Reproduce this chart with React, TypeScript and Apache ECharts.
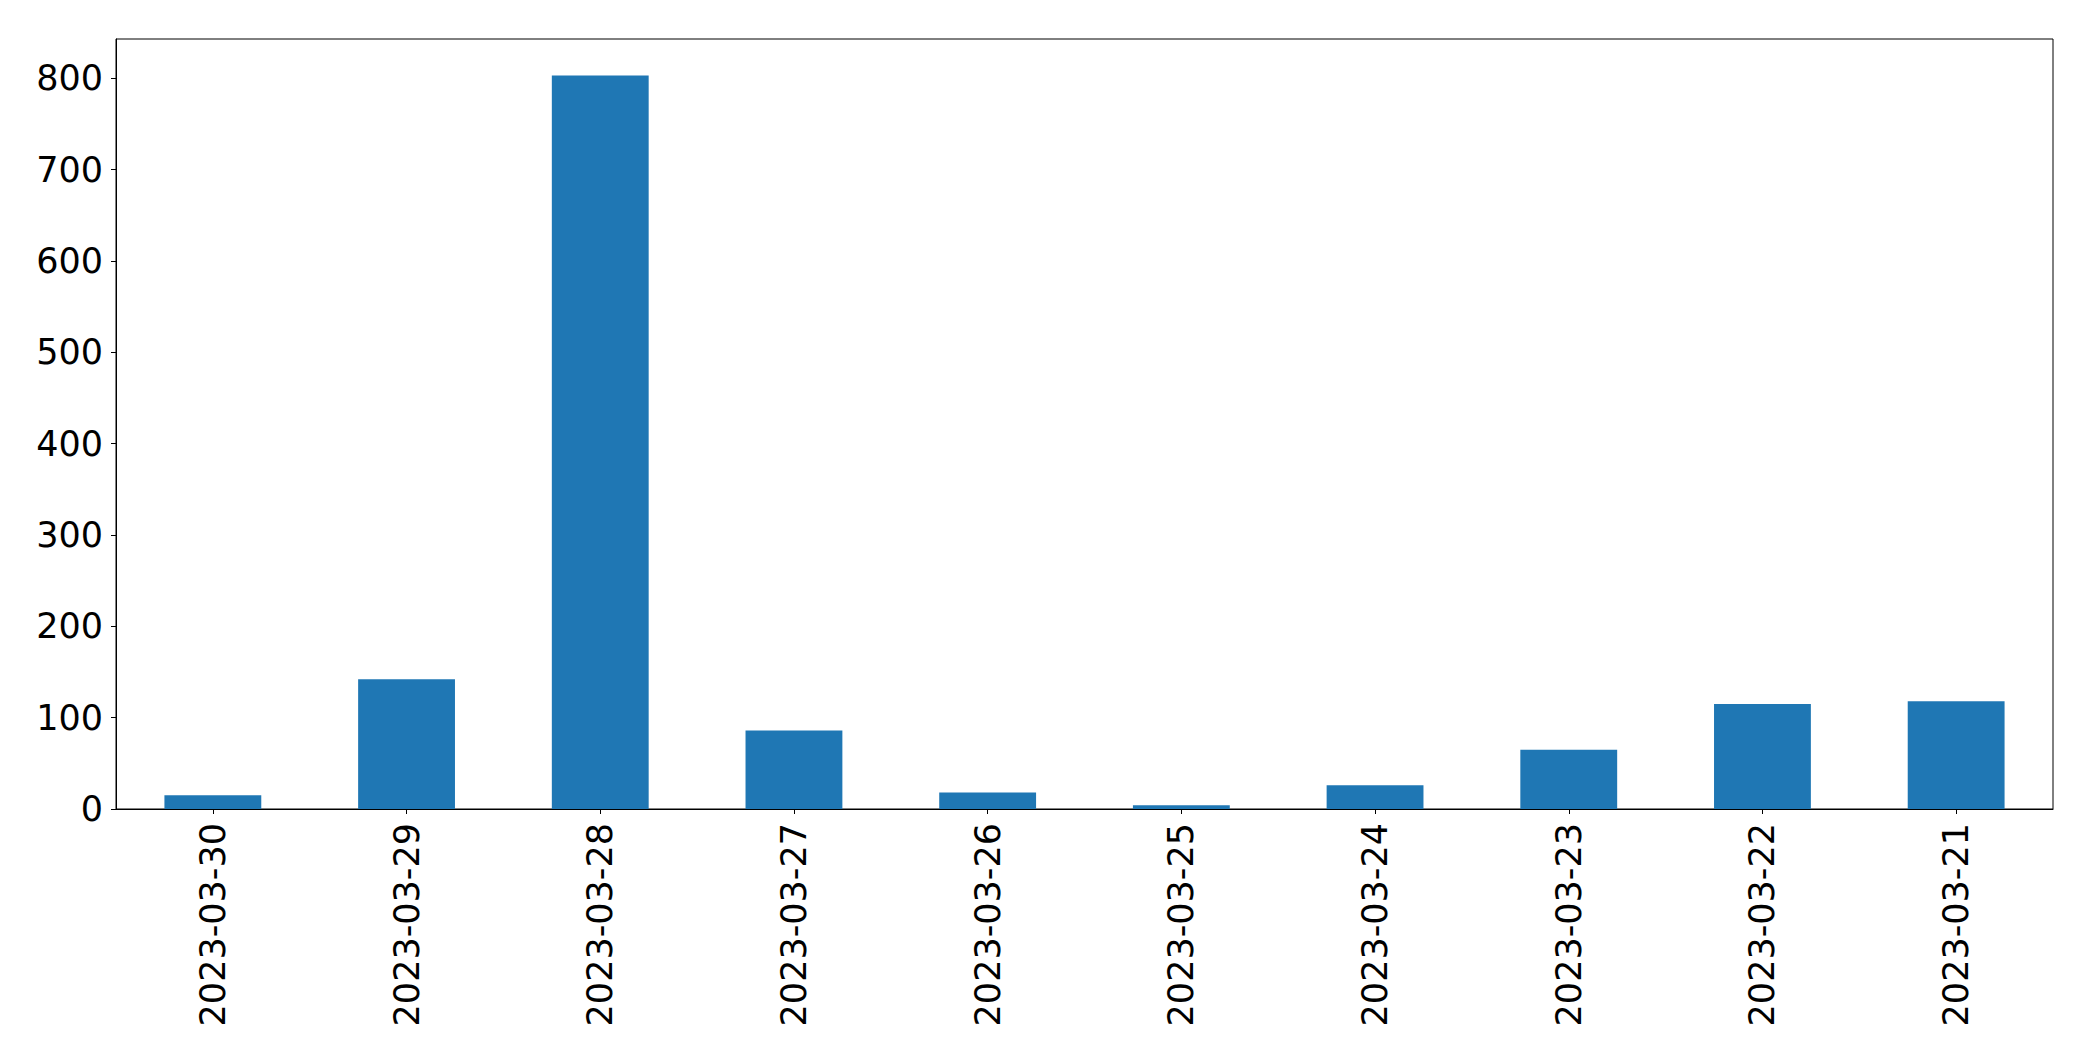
import React, { useEffect, useRef } from "react";
import * as echarts from "echarts";

const categories = [
  "2023-03-30",
  "2023-03-29",
  "2023-03-28",
  "2023-03-27",
  "2023-03-26",
  "2023-03-25",
  "2023-03-24",
  "2023-03-23",
  "2023-03-22",
  "2023-03-21",
];
const values = [15, 142, 803, 86, 18, 4, 26, 65, 115, 118];
const yMax = 843;
const yInterval = 100;

export default function App() {
  const ref = useRef<HTMLDivElement>(null);
  useEffect(() => {
    if (!ref.current) return;
    const chart = echarts.init(ref.current, undefined, { renderer: "svg" });
    const font = "DejaVu Sans";
    chart.setOption({
      animation: false,
      backgroundColor: "#ffffff",
      grid: {
        left: 116,
        top: 39,
        right: 40,
        bottom: 252,
        show: true,
        borderColor: "#000000",
        borderWidth: 1,
        backgroundColor: "transparent",
      },
      xAxis: {
        type: "category",
        data: categories,
        boundaryGap: true,
        axisLine: { show: true, lineStyle: { color: "#000000", width: 1 } },
        axisTick: {
          show: true,
          alignWithLabel: true,
          length: 5,
          lineStyle: { color: "#000000", width: 1 },
        },
        axisLabel: {
          rotate: 90,
          margin: 14,
          fontFamily: font,
          fontSize: 35,
          color: "#000000",
          interval: 0,
        },
        splitLine: { show: false },
      },
      yAxis: {
        type: "value",
        min: 0,
        max: yMax,
        interval: yInterval,
        axisLine: { show: true, lineStyle: { color: "#000000", width: 1 } },
        axisTick: {
          show: true,
          length: 5,
          lineStyle: { color: "#000000", width: 1 },
        },
        axisLabel: {
          margin: 13,
          fontFamily: font,
          fontSize: 35,
          color: "#000000",
          showMaxLabel: false,
          formatter: (v: number) => (v % 100 === 0 ? String(v) : ""),
        },
        splitLine: { show: false },
      },
      series: [
        {
          type: "bar",
          data: values,
          barWidth: "50%",
          itemStyle: { color: "#1f77b4" },
        },
      ],
    });
    return () => chart.dispose();
  }, []);
  return (
    <div
      ref={ref}
      style={{ position: "fixed", left: 0, top: 0, width: 2093, height: 1061, background: "#fff" }}
    />
  );
}
